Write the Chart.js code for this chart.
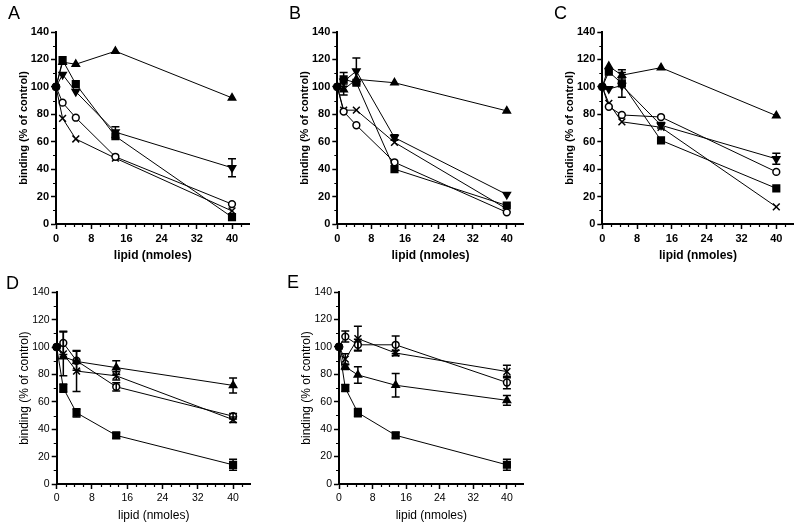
<!DOCTYPE html>
<html>
<head>
<meta charset="utf-8">
<script src="https://cdn.jsdelivr.net/npm/chart.js@4.4.1/dist/chart.umd.min.js"></script>
<style>
  body { margin: 0; background: #fff; }
  #page { position: relative; width: 800px; height: 530px; overflow: hidden; font-family: "Liberation Sans", Arial, sans-serif; }
  canvas { position: absolute; }
  .tag { position: absolute; font-size: 18px; line-height: 18px; color: #000; }
</style>
</head>
<body>
<div id="page">
  <canvas id="cA"></canvas>
  <canvas id="cB"></canvas>
  <canvas id="cC"></canvas>
  <canvas id="cD"></canvas>
  <canvas id="cE"></canvas>
  <div class="tag" style="left:8px;top:4px">A</div>
  <div class="tag" style="left:289px;top:4px">B</div>
  <div class="tag" style="left:554px;top:4px">C</div>
  <div class="tag" style="left:6px;top:274px">D</div>
  <div class="tag" style="left:287px;top:273px">E</div>
</div>
<script>
// x positions (nmoles lipid) and axis ticks
const xValues = [0, 1.5, 4.5, 13.5, 40];
const xTicks = [0, 8, 16, 24, 32, 40];
const xMinor = [2, 4, 6, 10, 12, 14, 18, 20, 22, 26, 28, 30, 34, 36, 38, 42];
const yTicks = [0, 20, 40, 60, 80, 100, 120, 140];
const yMinor = [10, 30, 50, 70, 90, 110, 130];

// Panel A
const aSquare  = [100, 119.5, 102, 64, 5];
const aTriUp   = [100, 118, 116.5, 126, 92];
const aTriDown = [100, 109, 96.5, 67, 41];
const aTriDownErr = [0, 0, 0, 4, 6.5];
const aCircle  = [100, 88.5, 77.5, 49, 14.5];
const aCross   = [100, 77, 62, 48, 9.5];

// Panel B
const bSquare  = [100, 105.5, 103, 40, 13.5];
const bSquareErr = [0, 5, 0, 0, 0];
const bTriUp   = [100, 98, 105.5, 103, 82.5];
const bTriUpErr = [0, 4, 0, 0, 0];
const bTriDown = [100, 104, 111.5, 63, 21.5];
const bTriDownErr = [0, 0, 9.5, 2, 0];
const bCircle  = [100, 82, 72, 45, 8.5];
const bCross   = [100, 83, 83, 59.5, 11];

// Panel C
const cSquare  = [100, 111, 102.5, 61, 26];
const cSquareErr = [0, 0, 10, 0, 0];
const cTriUp   = [100, 115, 108.5, 114, 79];
const cTriUpErr = [0, 0, 2, 0, 0];
const cTriDown = [100, 98.5, 101, 72, 47.5];
const cTriDownErr = [0, 0, 0, 2, 4];
const cCircle  = [100, 85.5, 79.5, 78, 38];
const cCross   = [100, 88, 74.5, 70.5, 12.5];

// Panel D
const dSquare  = [100, 70, 52, 35.5, 14];
const dSquareErr = [0, 3, 3, 2, 4];
const dTriUp   = [100, 93, 89.5, 85, 72];
const dTriUpErr = [0, 0, 0, 5, 5.5];
const dCircle  = [100, 103, 90, 71, 49.5];
const dCircleErr = [0, 8.5, 7, 3, 2];
const dCross   = [100, 95, 82.5, 79, 47];
const dCrossErr = [0, 16, 15, 3, 2];

// Panel E
const eSquare  = [100, 70, 52, 35.5, 14];
const eSquareErr = [0, 2.5, 3, 2, 4];
const eTriUp   = [100, 85.5, 79.5, 72, 61];
const eTriUpErr = [0, 2, 6, 8.5, 3.5];
const eCircle  = [100, 107.5, 101.5, 101.5, 74];
const eCircleErr = [0, 4, 4, 6.5, 4.5];
const eCross   = [100, 91, 106, 95.5, 82];
const eCrossErr = [0, 4, 9, 2, 4.5];

const FONT = '"Liberation Sans", Arial, sans-serif';

// marker looks
const markers = {
  square:  { pointStyle: 'rect', r: 4.7, fill: '#000' },
  triUp:   { pointStyle: 'triangle', r: 4.2, fill: '#000' },
  triDown: { pointStyle: 'triangle', r: 4.2, fill: '#000', rot: 180 },
  circle:  { pointStyle: 'circle', r: 3.4, fill: '#fff' },
  cross:   { pointStyle: 'crossRot', r: 4.8, fill: '#000' }
};

function series(kind, values, errors) {
  const m = markers[kind];
  return {
    data: xValues.map((x, i) => ({ x: x, y: values[i] })),
    errors: errors,
    showLine: true,
    borderColor: '#000',
    borderWidth: 1,
    pointStyle: m.pointStyle,
    pointRotation: m.rot || 0,
    pointRadius: xValues.map((x, i) => i === 0 ? 0 : m.r),
    pointBackgroundColor: m.fill,
    pointBorderColor: '#000',
    pointBorderWidth: 1.5,
    clip: false
  };
}

// filled circle at the control point
function control() {
  return {
    data: [{ x: xValues[0], y: 100 }],
    showLine: false,
    pointStyle: 'circle',
    pointRadius: 4,
    pointBackgroundColor: '#000',
    pointBorderColor: '#000',
    pointBorderWidth: 1,
    clip: false
  };
}

// error bars drawn through the chart scales
const errorBars = {
  id: 'errorBars',
  afterDatasetsDraw(chart) {
    const { ctx, scales: { x, y } } = chart;
    ctx.save();
    ctx.strokeStyle = '#000';
    ctx.lineWidth = 1.5;
    chart.data.datasets.forEach(ds => {
      if (!ds.errors) return;
      ds.data.forEach((p, i) => {
        const e = ds.errors[i];
        if (!e) return;
        const px = x.getPixelForValue(p.x);
        const top = y.getPixelForValue(p.y + e);
        const bot = y.getPixelForValue(p.y - e);
        ctx.beginPath();
        ctx.moveTo(px, top); ctx.lineTo(px, bot);
        ctx.moveTo(px - 4, top); ctx.lineTo(px + 4, top);
        ctx.moveTo(px - 4, bot); ctx.lineTo(px + 4, bot);
        ctx.stroke();
      });
    });
    ctx.restore();
  }
};

// small in-between ticks
const minorTicks = {
  id: 'minorTicks',
  afterDraw(chart) {
    const { ctx, scales: { x, y } } = chart;
    ctx.save();
    ctx.strokeStyle = '#000';
    ctx.lineWidth = 1.2;
    ctx.beginPath();
    xMinor.forEach(v => {
      const px = Math.round(x.getPixelForValue(v)) + 0.5;
      ctx.moveTo(px, x.top); ctx.lineTo(px, x.top + 3);
    });
    yMinor.forEach(v => {
      const py = Math.round(y.getPixelForValue(v)) + 0.5;
      ctx.moveTo(y.right, py); ctx.lineTo(y.right - 3, py);
    });
    ctx.stroke();
    ctx.restore();
  }
};

// g: canvas box and axis corner positions on the page
function makePanel(id, g, datasets, bold) {
  const cv = document.getElementById(id);
  cv.width = g.w; cv.height = g.h;
  cv.style.left = g.left + 'px'; cv.style.top = g.top + 'px';
  const weight = bold ? 'bold' : 'normal';
  const yTitleSize = bold ? 11 : 12;
  const yAxisW = 32 + yTitleSize * 0.6;
  const xAxisH = 32 + 7.2;
  const axisLeft = g.axisX - g.left;
  const bottom = g.axisBottom - g.top;

  return new Chart(cv, {
    type: 'scatter',
    data: { datasets: [control()].concat(datasets) },
    options: {
      responsive: false,
      animation: false,
      devicePixelRatio: 1,
      layout: {
        padding: {
          left: axisLeft - yAxisW,
          top: g.axisTop - g.top,
          right: g.w - (g.axisRight - g.left),
          bottom: g.h - bottom - xAxisH
        }
      },
      plugins: { legend: { display: false }, tooltip: { enabled: false } },
      scales: {
        x: {
          type: 'linear', min: 0, max: 44,
          afterBuildTicks: s => { s.ticks = xTicks.map(v => ({ value: v })); },
          afterFit: s => { s.height = xAxisH; },
          grid: { drawOnChartArea: false, drawTicks: true, tickLength: 5, tickWidth: 1.5, tickColor: '#000' },
          border: { display: true, color: '#000', width: 2 },
          ticks: { color: '#000', padding: 3, maxRotation: 0, autoSkip: false,
                   font: { family: FONT, size: bold ? 11 : 10.5, weight: weight } },
          title: { display: true, text: 'lipid (nmoles)', color: '#000', padding: 0,
                   font: { family: FONT, size: 12, weight: weight } }
        },
        y: {
          type: 'linear', min: 0, max: 140,
          afterBuildTicks: s => { s.ticks = yTicks.map(v => ({ value: v })); },
          afterFit: s => { s.width = yAxisW; },
          grid: { drawOnChartArea: false, drawTicks: true, tickLength: 5, tickWidth: 1.5, tickColor: '#000' },
          border: { display: true, color: '#000', width: 2 },
          ticks: { color: '#000', padding: 2, autoSkip: false,
                   font: { family: FONT, size: bold ? 11 : 10.5, weight: weight } },
          title: { display: true, text: 'binding (% of control)', color: '#000', padding: 0,
                   font: { family: FONT, size: yTitleSize, weight: weight } }
        }
      }
    },
    plugins: [errorBars, minorTicks]
  });
}

makePanel('cA', { left: 0, top: 0, w: 262, h: 265, axisX: 56, axisTop: 32, axisBottom: 224, axisRight: 249.6 }, [
  series('square', aSquare),
  series('triUp', aTriUp),
  series('triDown', aTriDown, aTriDownErr),
  series('circle', aCircle),
  series('cross', aCross)
], true);

makePanel('cB', { left: 262, top: 0, w: 268, h: 265, axisX: 337.3, axisTop: 32, axisBottom: 224, axisRight: 529.8 }, [
  series('square', bSquare, bSquareErr),
  series('triUp', bTriUp, bTriUpErr),
  series('triDown', bTriDown, bTriDownErr),
  series('circle', bCircle),
  series('cross', bCross)
], true);

makePanel('cC', { left: 530, top: 0, w: 270, h: 265, axisX: 602.3, axisTop: 32, axisBottom: 224, axisRight: 795.2 }, [
  series('square', cSquare, cSquareErr),
  series('triUp', cTriUp, cTriUpErr),
  series('triDown', cTriDown, cTriDownErr),
  series('circle', cCircle),
  series('cross', cCross)
], true);

makePanel('cD', { left: 0, top: 265, w: 262, h: 265, axisX: 56.7, axisTop: 292.3, axisBottom: 484, axisRight: 250.7 }, [
  series('square', dSquare, dSquareErr),
  series('triUp', dTriUp, dTriUpErr),
  series('circle', dCircle, dCircleErr),
  series('cross', dCross, dCrossErr)
], false);

makePanel('cE', { left: 262, top: 265, w: 268, h: 265, axisX: 339, axisTop: 292, axisBottom: 484, axisRight: 529.6 }, [
  series('square', eSquare, eSquareErr),
  series('triUp', eTriUp, eTriUpErr),
  series('circle', eCircle, eCircleErr),
  series('cross', eCross, eCrossErr)
], false);
</script>
</body>
</html>
